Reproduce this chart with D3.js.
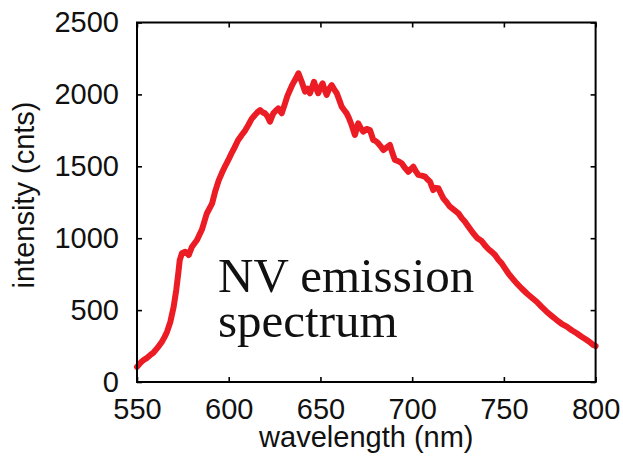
<!DOCTYPE html>
<html>
<head>
<meta charset="utf-8">
<script src="https://cdn.jsdelivr.net/npm/d3@7"></script>
<style>
  html, body { margin: 0; padding: 0; background: #fff; }
  svg { display: block; }
</style>
</head>
<body>
<svg id="chart" width="623" height="462"></svg>
<script>
const wavelength = [550,552,553.6,555.5,557.3,559,560.9,562.2,563.6,565,566.4,568.2,570,571.4,572.5,573.3,574.5,576.3,578.2,580,582.7,585.4,588,590.9,592.5,594.5,596.2,598,599.8,601.5,603.4,605,607.1,609,610.7,612.5,614.3,616,617.1,618.5,619.8,621,622.5,624.3,625.5,627,628.9,630.7,632,633.4,634.8,636.1,638,639.8,641.6,643,644.3,645.5,646.5,647.7,648.8,650,651.2,652.3,653.4,654.8,656.1,657.5,658.9,660.3,661.6,663,664.3,665.7,667,668.8,670.6,672,673.4,675.2,677,678.8,680.2,681.5,683,684.3,686,687.9,689.3,690.6,692.5,694.3,696,697.9,699.3,700.6,702,703.4,705.2,707,708.3,709.7,711.5,712.9,714.3,715.7,717,718.8,720.6,723,725.2,727,728.8,731,733.3,735.6,737.9,739.7,741.5,743.4,745.2,747,748.8,750.6,752.4,754.7,757,759.7,762.4,765.1,767.9,770.6,773.3,776,778.8,781.5,784.3,787,789.7,792.4,795.2,797,798.8,800];
const intensity = [105,135,153,168,188,205,234,255,280,312,350,419,524,640,756,848,895,906,883,941,987,1060,1170,1240,1320,1400,1451,1500,1544,1590,1636,1680,1718,1750,1787,1830,1857,1880,1891,1875,1868,1850,1810,1868,1885,1903,1868,1938,1990,2031,2070,2100,2147,2088,2019,2040,2008,2050,2088,2040,2008,2050,2077,2030,1996,2040,2065,2035,2008,1960,1914,1890,1868,1830,1787,1718,1799,1765,1741,1760,1752,1683,1675,1660,1636,1613,1630,1648,1590,1544,1535,1521,1490,1462,1480,1497,1465,1440,1435,1428,1410,1393,1335,1350,1347,1310,1277,1250,1219,1195,1173,1140,1115,1075,1034,1000,980,950,925,905,883,850,825,790,756,720,686,650,617,588,558,522,489,460,431,405,385,360,339,315,292,275,257,250];
const xTicks = [550,600,650,700,750,800];
const yTicks = [0,500,1000,1500,2000,2500];
const xTitle = "wavelength (nm)";
const yTitle = "intensity (cnts)";
const annotation = ["NV emission", "spectrum"];

const svg = d3.select("#chart");
const m = {left: 137, top: 22.5, right: 623 - 595.6, bottom: 462 - 382};
const W = 623 - m.left - m.right, H = 462 - m.top - m.bottom;
const g = svg.append("g").attr("transform", `translate(${m.left},${m.top})`);

const x = d3.scaleLinear().domain([550, 800]).range([0, W]);
const y = d3.scaleLinear().domain([0, 2500]).range([H, 0]);

const font = "'Liberation Sans', Arial, Helvetica, sans-serif";

function styleAxis(sel, showLabels) {
  sel.select(".domain").remove();
  sel.selectAll(".tick line").attr("stroke", "#000").attr("stroke-width", 1.6);
  sel.selectAll(".tick text").attr("font-family", font).attr("font-size", 29).attr("fill", "#111");
  if (!showLabels) sel.selectAll(".tick text").remove();
}

g.append("g").attr("transform", `translate(0,${H})`)
  .call(d3.axisBottom(x).tickValues(xTicks).tickSizeInner(-5).tickSizeOuter(0).tickPadding(16).tickFormat(d3.format("d")))
  .call(s => styleAxis(s, true));
g.append("g")
  .call(d3.axisTop(x).tickValues(xTicks).tickSizeInner(-5).tickSizeOuter(0))
  .call(s => styleAxis(s, false));
g.append("g")
  .call(d3.axisLeft(y).tickValues(yTicks).tickSizeInner(-5).tickSizeOuter(0).tickPadding(18).tickFormat(d3.format("d")))
  .call(s => styleAxis(s, true));
g.append("g").attr("transform", `translate(${W},0)`)
  .call(d3.axisRight(y).tickValues(yTicks).tickSizeInner(-5).tickSizeOuter(0))
  .call(s => styleAxis(s, false));

// data line
const line = d3.line().x((d, i) => x(wavelength[i])).y(d => y(d));
g.append("path").datum(intensity)
  .attr("d", line)
  .attr("fill", "none")
  .attr("stroke", "#ec1c24")
  .attr("stroke-width", 6)
  .attr("stroke-linejoin", "round")
  .attr("stroke-linecap", "round");

// frame
g.append("rect").attr("width", W).attr("height", H)
  .attr("fill", "none").attr("stroke", "#000").attr("stroke-width", 2);

// axis titles
svg.append("text").attr("x", m.left + W / 2).attr("y", 447)
  .attr("text-anchor", "middle").attr("font-family", font).attr("font-size", 29).attr("fill", "#111")
  .text(xTitle);
svg.append("text").attr("transform", "translate(34,195) rotate(-90)")
  .attr("text-anchor", "middle").attr("font-family", font).attr("font-size", 29).attr("fill", "#111")
  .text(yTitle);

// annotation
const serif = "'Liberation Serif', 'Times New Roman', serif";
annotation.forEach((t, i) => {
  svg.append("text").attr("x", 218).attr("y", 291.5 + i * 45.5)
    .attr("font-family", serif).attr("font-size", 49).attr("fill", "#111")
    .text(t);
});
</script>
</body>
</html>
